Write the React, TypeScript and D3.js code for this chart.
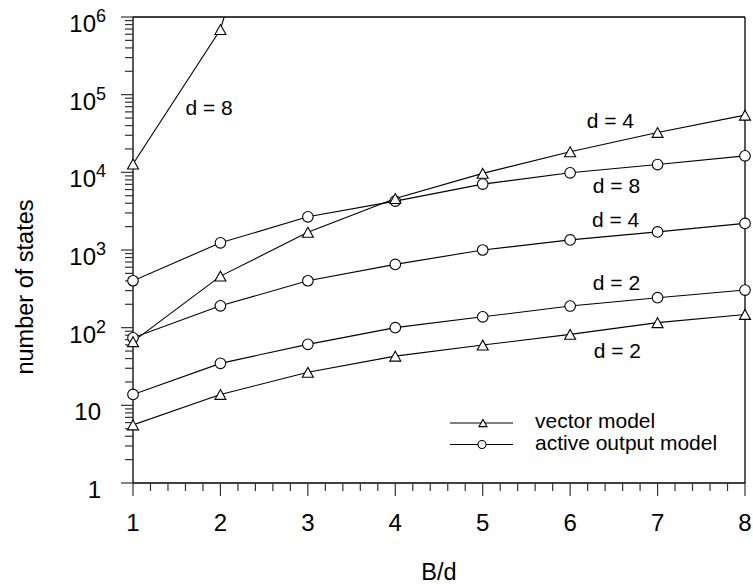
import React from "react";
import * as d3 from "d3";

// B/d values on the x axis
const bd = [1, 2, 3, 4, 5, 6, 7, 8];

// number of states
const vectorD2 = [5.6, 13.8, 26.6, 43, 59.7, 82, 116, 148];
const vectorD4 = [66, 461, 1690, 4600, 9700, 18400, 32600, 54500];
const vectorD8 = [12800, 690000, 4e9]; // third point runs off the top
const activeD2 = [13.8, 34.7, 61, 100, 138, 190, 243, 305];
const activeD4 = [74, 191, 402, 653, 1000, 1350, 1710, 2200];
const activeD8 = [402, 1238, 2675, 4260, 7050, 9860, 12600, 16300];

const yTickExp = [0, 1, 2, 3, 4, 5, 6];
const xTicks = [1, 2, 3, 4, 5, 6, 7, 8];

// curve labels, in data units
const annotations = [
  { text: "d = 8", x: 1.6, y: 54700 },
  { text: "d = 4", x: 6.19, y: 37200 },
  { text: "d = 8", x: 6.26, y: 5420 },
  { text: "d = 4", x: 6.25, y: 1980 },
  { text: "d = 2", x: 6.26, y: 305 },
  { text: "d = 2", x: 6.27, y: 40.7 },
];

const W = 753;
const H = 584;
const L = 133, R = 745, T = 17, B = 483;
const FONT = "'Liberation Sans', Arial, sans-serif";

const tri = (cx: number, cy: number, s: number) => {
  const h = s * 0.9;
  return `M${cx},${cy - h / 2}L${cx + s / 2},${cy + h / 2}L${cx - s / 2},${cy + h / 2}Z`;
};

const App: React.FC = () => {
  const x = d3.scaleLinear().domain([1, 8]).range([L, R]);
  const y = d3.scaleLog().domain([1, 1e6]).range([B, T]);

  const line = d3
    .line<number>()
    .x((_, i) => x(bd[i]))
    .y((d) => y(d));

  const triSeries = [vectorD2, vectorD4, vectorD8];
  const circSeries = [activeD2, activeD4, activeD8];

  const minorY: number[] = [];
  for (let k = 0; k < 6; k++) for (let m = 2; m <= 9; m++) minorY.push(m * Math.pow(10, k));
  const minorX: number[] = [];
  for (let v = 1; v < 8 - 1e-9; v += 0.2) if (Math.abs(v - Math.round(v)) > 1e-6) minorX.push(v);

  const inside = (v: number) => v <= 1e6;

  return (
    <svg width={W} height={H} style={{ position: "absolute", left: 0, top: 0, background: "#fff" }} fontFamily={FONT}>
      <defs>
        <clipPath id="plot">
          <rect x={L} y={T} width={R - L} height={B - T} />
        </clipPath>
      </defs>

      {/* frame */}
      <line x1={L} x2={R} y1={T} y2={T} stroke="#000" strokeWidth={1.3} />
      <line x1={R} x2={R} y1={T} y2={B} stroke="#000" strokeWidth={1.3} />
      <line x1={L} x2={L} y1={T} y2={B} stroke="#000" strokeWidth={1.3} />
      <line x1={L} x2={R} y1={B} y2={B} stroke="#000" strokeWidth={1.3} />

      {/* y ticks */}
      {yTickExp.map((k) => (
        <line key={"ym" + k} x1={L - 12} x2={L} y1={y(Math.pow(10, k))} y2={y(Math.pow(10, k))} stroke="#333" strokeWidth={1.2} />
      ))}
      {minorY.map((v) => (
        <line key={"yn" + v} x1={L - 8} x2={L} y1={y(v)} y2={y(v)} stroke="#333" strokeWidth={1.2} />
      ))}
      {yTickExp.map((k) =>
        k < 2 ? (
          <text key={"yl" + k} x={101} y={y(Math.pow(10, k)) + 15} textAnchor="end" fontSize={24}>
            {k === 0 ? "1" : "10"}
          </text>
        ) : (
          <text key={"yl" + k} x={106} y={y(Math.pow(10, k)) + 15} textAnchor="end" fontSize={24}>
            <tspan>10</tspan>
            <tspan dy={-10} fontSize={18}>{k}</tspan>
          </text>
        )
      )}

      {/* x ticks */}
      {xTicks.map((v) => (
        <line key={"xm" + v} x1={x(v)} x2={x(v)} y1={B} y2={B + 13} stroke="#333" strokeWidth={1.2} />
      ))}
      {minorX.map((v) => (
        <line key={"xn" + v} x1={x(v)} x2={x(v)} y1={B} y2={B + 8} stroke="#333" strokeWidth={1.2} />
      ))}
      {xTicks.map((v) => (
        <text key={"xl" + v} x={x(v)} y={531} textAnchor="middle" fontSize={24}>
          {v}
        </text>
      ))}

      {/* axis titles */}
      <text x={(L + R) / 2} y={580} textAnchor="middle" fontSize={23.5}>
        B/d
      </text>
      <text transform={`translate(33,287) rotate(-90)`} textAnchor="middle" fontSize={23.5}>
        number of states
      </text>

      {/* series */}
      <g clipPath="url(#plot)">
        {[...triSeries, ...circSeries].map((s, i) => (
          <path key={"l" + i} d={line(s) || ""} fill="none" stroke="#000" strokeWidth={1.1} />
        ))}
      </g>
      {circSeries.map((s, i) =>
        s.map((v, j) =>
          inside(v) ? (
            <circle key={`c${i}-${j}`} cx={x(bd[j])} cy={y(v)} r={5.3} fill="#fff" stroke="#000" strokeWidth={1.1} />
          ) : null
        )
      )}
      {triSeries.map((s, i) =>
        s.map((v, j) =>
          inside(v) ? (
            <path key={`t${i}-${j}`} d={tri(x(bd[j]), y(v), 11)} fill="#fff" stroke="#000" strokeWidth={1.1} />
          ) : null
        )
      )}

      {/* curve labels */}
      {annotations.map((a, i) => (
        <text key={"a" + i} x={x(a.x)} y={y(a.y)} fontSize={21}>
          {a.text}
        </text>
      ))}

      {/* legend */}
      <g>
        <line x1={450} x2={513} y1={423} y2={423} stroke="#000" strokeWidth={1.1} />
        <path d={tri(483, 423, 8)} fill="#fff" stroke="#000" strokeWidth={1.1} />
        <text x={535} y={427.5} fontSize={21}>
          vector model
        </text>
        <line x1={450} x2={513} y1={444.5} y2={444.5} stroke="#000" strokeWidth={1.1} />
        <circle cx={482} cy={444.5} r={4} fill="#fff" stroke="#000" strokeWidth={1.1} />
        <text x={535} y={450} fontSize={21}>
          active output model
        </text>
      </g>
    </svg>
  );
};

export default App;
